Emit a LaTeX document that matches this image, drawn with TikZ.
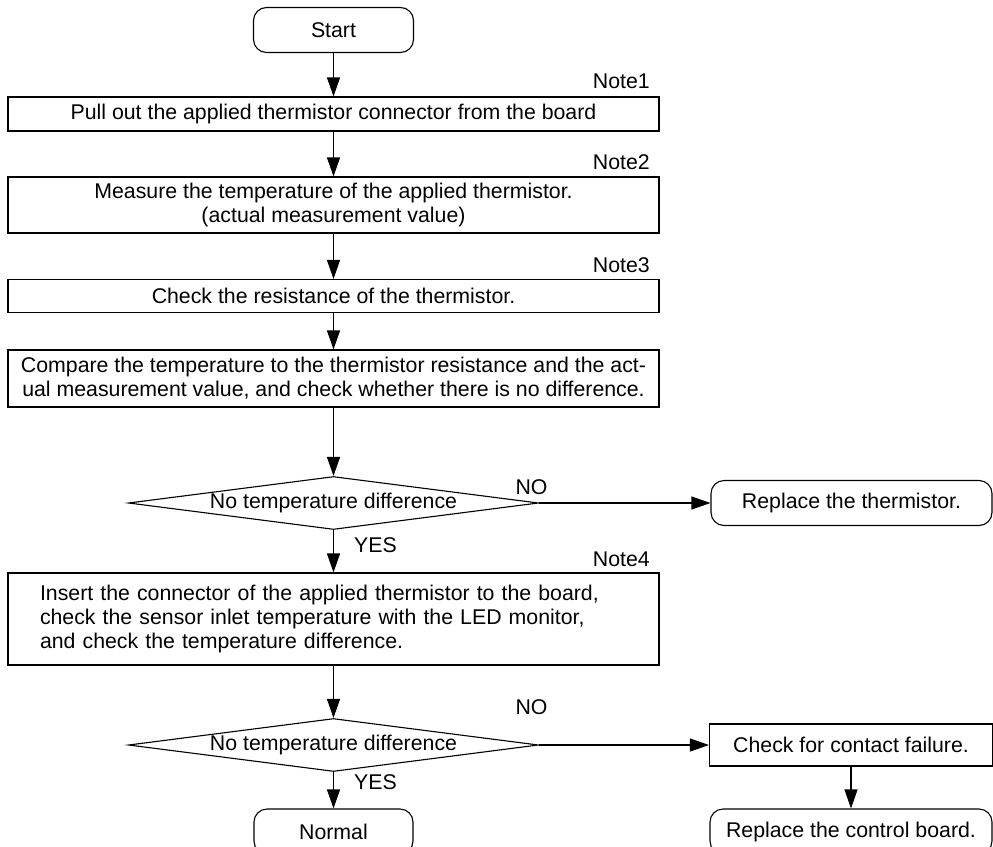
\documentclass[tikz,border=0pt]{standalone}
\usepackage{fontspec}
\setmainfont{Liberation Sans}
\usetikzlibrary{arrows.meta,shapes.geometric}
\begin{document}
\begin{tikzpicture}[x=1pt,y=-1pt,
  every node/.style={font=\fontsize{21.3}{24}\selectfont},
  box/.style={draw,line width=1.1pt,minimum width=651pt,inner sep=0pt,align=center},
  term/.style={draw,line width=1.1pt,rounded corners=13pt,inner sep=0pt,minimum height=45pt},
  dec/.style={draw,diamond,line width=1.1pt,minimum width=410pt,minimum height=53pt,inner sep=0pt,aspect=7.7},
  flow/.style={line width=1.1pt,-{Triangle[length=19pt,width=13pt]}},
  lab/.style={inner sep=0pt},
]
\useasboundingbox (0,0) rectangle (993,846);
\clip (0,0) rectangle (993,846);

\node[term,minimum width=160pt] (start) at (333.5,30) {Start};
\node[box,minimum height=34pt] (b1) at (333.5,114) {Pull out the applied thermistor connector from the board};
\node[box,minimum height=56pt] (b2) at (333.5,205) {Measure the temperature of the applied thermistor.\\(actual measurement value)};
\node[box,minimum height=33pt] (b3) at (333.5,296) {Check the resistance of the thermistor.};
\node[box,minimum height=57pt] (b4) at (333.5,378.5) {Compare the temperature to the thermistor resistance and the act-\\ual measurement value, and check whether there is no difference.};
\node[dec] (d1) at (333.5,503) {};
\node[lab] (t1) at (d1) {No temperature difference};
\node[term,minimum width=281pt] (rt) at (851.5,503) {Replace the thermistor.};
\node[box,minimum height=92pt,text width=587pt,align=left,inner xsep=32pt] (b5) at (333.5,619) {Insert the connector of the applied thermistor to the board,\\check the sensor inlet temperature with the LED monitor,\\and check the temperature difference.};
\node[dec] (d2) at (333.5,745) {};
\node[lab] (t2) at (d2) {No temperature difference};
\node[box,minimum width=283pt,minimum height=42pt] (cf) at (851,745) {Check for contact failure.};
\node[term,minimum width=282pt] (rcb) at (851,831.5) {Replace the control board.};
\node[term,minimum width=159pt] (normal) at (333.5,831.5) {Normal};

\node[lab,anchor=east] (n1) at (650,81) {Note1};
\node[lab,anchor=east] (n2) at (650,162) {Note2};
\node[lab,anchor=east] (n3) at (650,265.5) {Note3};
\node[lab,anchor=east] (n4) at (650,559) {Note4};
\node[lab] (no1) at (531.5,487) {NO};
\node[lab] (no2) at (531.5,707) {NO};
\node[lab] (yes1) at (375.5,545) {YES};
\node[lab] (yes2) at (375.5,782) {YES};

\draw[flow] (start) -- (b1);
\draw[flow] (b1) -- (b2);
\draw[flow] (b2) -- (b3);
\draw[flow] (b3) -- (b4);
\draw[flow] (b4) -- (d1);
\draw[flow] (d1) -- (b5);
\draw[flow] (d1) -- (rt);
\draw[flow] (b5) -- (d2);
\draw[flow] (d2) -- (normal);
\draw[flow] (d2) -- (cf);
\draw[flow] (cf) -- (rcb);
\end{tikzpicture}
\end{document}
